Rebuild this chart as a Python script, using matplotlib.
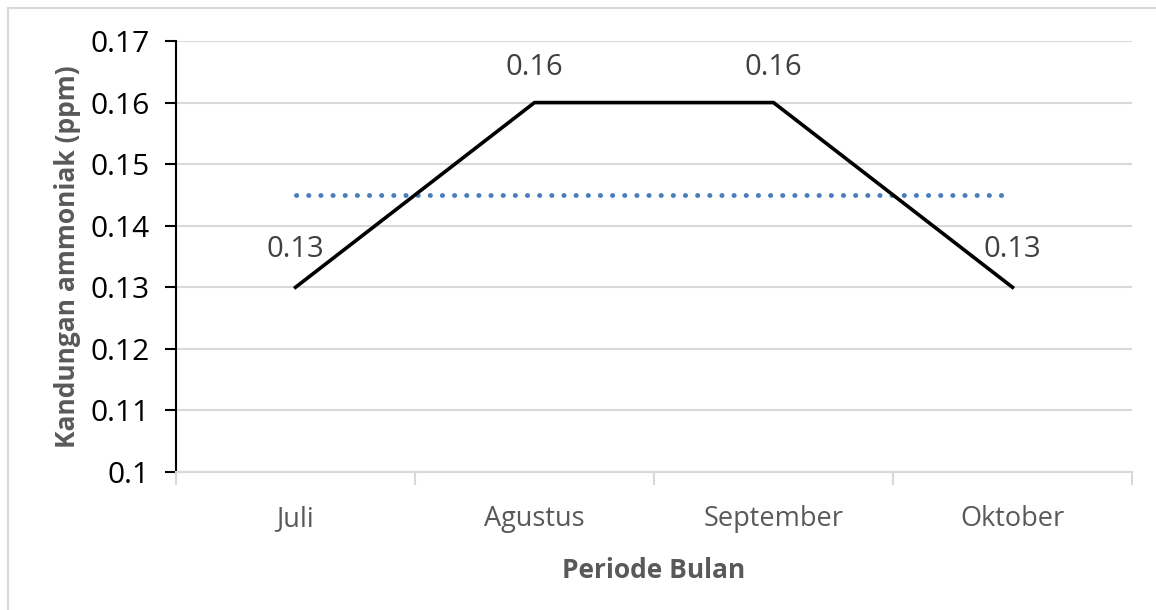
import matplotlib
matplotlib.use("Agg")
import matplotlib.pyplot as plt
from matplotlib.patches import Rectangle

months = ["Juli", "Agustus", "September", "Oktober"]
ammonia = [0.13, 0.16, 0.16, 0.13]
mean_level = 0.145
y_ticks = [0.1, 0.11, 0.12, 0.13, 0.14, 0.15, 0.16, 0.17]
y_labels = ["0.1", "0.11", "0.12", "0.13", "0.14", "0.15", "0.16", "0.17"]

plt.rcParams["font.family"] = ["Open Sans", "DejaVu Sans"]

GRID = "#d9d9d9"
fig = plt.figure(figsize=(11.56, 6.10), dpi=100)
ax = fig.add_axes([176 / 1156, 1 - 472 / 610, 956 / 1156, 431 / 610])

# outer chart border (only top/left visible in the reference)
fig.patches.append(Rectangle((8 / 1156, -0.1), 1.2, 1 - 8 / 610 + 0.1,
                             transform=fig.transFigure, fill=False,
                             edgecolor="#d9d9d9", linewidth=1.5))

x = list(range(len(months)))
ax.plot(x, ammonia, color="black", linewidth=2.6, solid_joinstyle="miter", zorder=3)
ax.plot([x[0], x[-1]], [mean_level, mean_level], color="#4a7ebb", linewidth=3.5,
        linestyle=(0, (0.05, 2.45)), dash_capstyle="round", zorder=2)

offsets = [(0, 38), (0, 35), (0, 35), (0, 38)]
for xi, v, off in zip(x, ammonia, offsets):
    ax.annotate(f"{v:.2f}", (xi, v), xytext=off, textcoords="offset pixels",
                ha="center", va="center", fontsize=21, color="#404040")

ax.set_xlim(-0.5, len(months) - 0.5)
ax.set_ylim(0.1, 0.17)
ax.set_yticks(y_ticks)
ax.set_yticklabels(y_labels, fontsize=21.5, color="black")
ax.set_xticks([i - 0.5 for i in range(len(months) + 1)])
ax.set_xticklabels([])
ax.set_xticks(x, minor=True)
ax.set_xticklabels(months, minor=True, fontsize=19.5, color="#595959")
ax.tick_params(axis="x", which="major", length=9, color=GRID, width=1.5)
ax.tick_params(axis="x", which="minor", length=0, pad=24)
ax.tick_params(axis="y", length=8, width=1.5, color="black", pad=11)

ax.grid(axis="y", color=GRID, linewidth=1.5)
ax.set_axisbelow(True)
for s in ("top", "right"):
    ax.spines[s].set_visible(False)
ax.spines["left"].set_color("black")
ax.spines["left"].set_linewidth(1.5)
ax.spines["bottom"].set_color(GRID)
ax.spines["bottom"].set_linewidth(1.5)

ax.set_xlabel("Periode Bulan", fontsize=19, fontweight="bold", color="#595959", labelpad=17)
ax.set_ylabel("Kandungan ammoniak (ppm)", fontsize=19, fontweight="bold", color="#595959", labelpad=7)

fig.savefig("out.png", dpi=100)
